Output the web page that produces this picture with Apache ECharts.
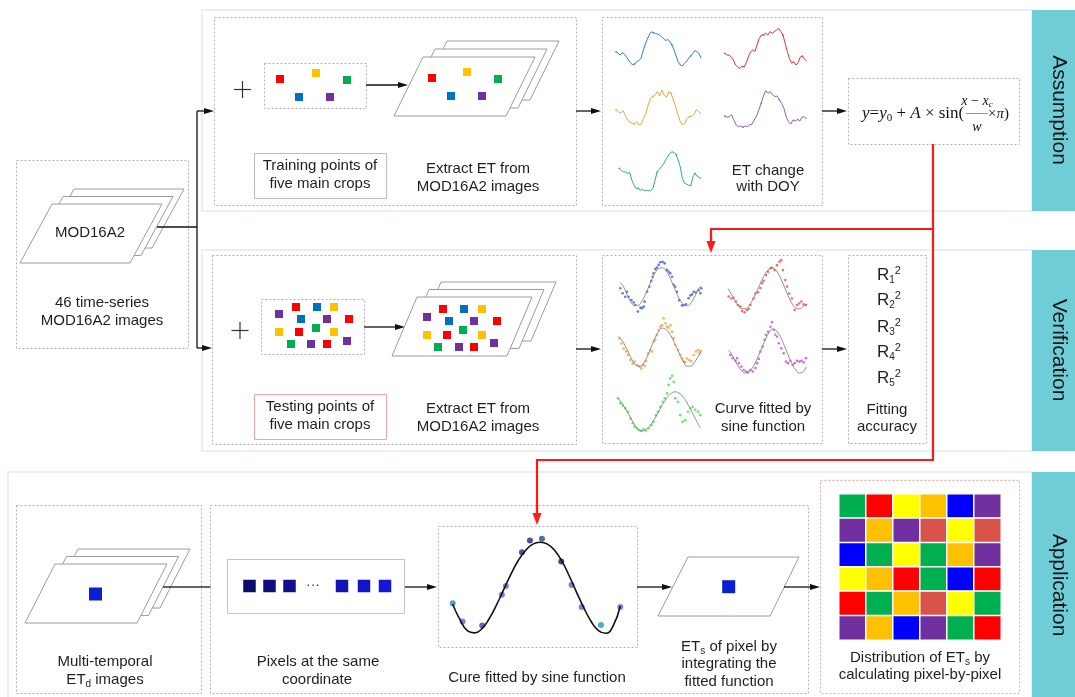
<!DOCTYPE html>
<html>
<head>
<meta charset="utf-8">
<title>ET estimation workflow</title>
<script src="https://cdn.jsdelivr.net/npm/echarts/dist/echarts.min.js"></script>
<style>
  html, body { margin: 0; padding: 0; background: #fff; }
  #chart { width: 1075px; height: 697px; }
</style>
</head>
<body>
<div id="chart"></div>
<script>
// ---------- data ----------
// ET change with DOY (MOD16A2 composites) for the five main crops
const etBlue   = [4.5,4.0,3.5,4.2,3.8,3.0,2.0,1.2,0.5,0.8,1.5,1.8,2.5,4.5,6.5,8.2,9.5,10.5,10.2,10.0,9.8,9.5,9.0,8.5,7.8,8.2,7.5,6.5,5.0,3.2,1.5,0.5,0.2,1.0,1.5,2.5,3.2,4.0,4.8,4.5,4.0,2.5];
const etRed    = [4.2,3.75,3.75,3.3,2.5,1.25,0.8,0.4,1.0,0.8,1.8,3.3,4.6,5.0,4.6,6.25,7.9,8.75,8.75,9.2,8.75,9.6,9.2,9.6,10.0,10.4,9.6,8.75,6.7,4.6,2.9,1.7,2.1,1.25,1.8,3.2,3.5,2.7,2.2];
const etOrange = [4.8,4.3,3.8,4.6,3.3,1.9,1.4,1.0,0.76,1.4,0.5,0.76,2.4,3.8,6.2,8.1,8.6,9.0,10.0,8.8,10.5,9.0,8.4,10.0,9.5,7.6,5.7,3.3,1.4,0.5,1.0,2.4,2.9,3.0,3.5,4.8,4.3,3.6];
const etPurple = [3.2,2.9,3.0,3.5,2.2,0.9,0.4,0.6,0.26,0.6,0.4,0.9,1.1,2.2,3.2,4.8,6.5,8.4,9.8,9.1,9.6,8.7,8.3,8.4,7.4,6.5,5.2,3.0,1.7,1.1,2.2,1.9,2.3,1.9,3.0,2.9,2.5];
const etGreen  = [6.1,5.5,5.2,5.2,4.8,5.0,3.0,1.7,0.9,0.9,0.4,0.7,0.26,0.4,0.26,0.4,0.9,3.0,5.2,5.8,6.5,7.2,8.3,9.1,10.0,10.4,10.3,9.7,8.3,6.5,3.5,2.2,2.0,1.7,1.5,3.9,4.8,4.1,3.7,3.5];

// fitted sine curves, sampled every 2 composites (t = 0, 2, ..., 46)
const fitStep = 2;
const fitBlue   = [6.3,5.05,2.93,1.25,0.32,0.32,1.25,2.93,5.03,7.18,8.95,10.0,10.14,9.35,7.76,5.7,3.53,1.68,0.51,0.22,0.88,2.36,4.38,5.4];
const fitRed    = [5.6,4.1,2.4,1.1,0.35,0.3,0.9,2.2,3.9,5.9,7.8,9.5,10.6,11.0,10.5,9.2,7.3,5.2,3.2,1.5,0.5,0.3,0.8,1.6];
const fitOrange = [8.1,7.0,5.3,3.4,1.6,0.5,0.35,1.3,3.0,5.2,7.5,9.3,10.3,10.1,9.1,7.5,5.5,3.5,1.6,0.4,0.4,1.3,2.7,4.2];
const fitPurple = [6.3,5.0,3.4,1.9,0.8,0.3,0.6,1.6,3.2,5.1,7.2,9.2,10.9,11.8,11.5,10.4,8.6,6.5,4.4,2.5,1.1,0.3,0.5,1.9];
const fitGreen  = [8.7,7.6,6.1,4.5,2.8,1.3,0.3,0.2,0.7,1.6,3.0,4.6,6.3,7.9,9.2,10.1,10.4,10.1,9.3,8.0,6.3,4.5,2.7,1.0];

// testing-point observations [t, ET]
const obsBlue = [[0,4.8],[1.3,3.5],[2.8,2.6],[3.8,3.9],[4.7,2.6],[6.3,1.7],[7.6,1.1],[8.5,0.4],[10,-1.3],[11.4,-0.3],[12.3,-0.4],[13.3,0],[13.8,1.3],[15.2,3.9],[16.5,5.2],[17.6,6.7],[18.4,7.8],[18.9,8.7],[19.9,9.8],[20.8,10.2],[21.8,10.9],[22.7,11.6],[24,11.7],[25.2,11.3],[26.5,9.6],[27.5,9.1],[28.4,8.7],[29.4,7.8],[30.3,5.7],[31.2,5.2],[32.2,3.9],[33.5,1.7],[35,0.3],[36,0.4],[37.3,0.6],[38.8,2.2],[39.8,2.9],[40.7,3.2],[41.7,3.9],[43,3.7],[44.5,4.3],[45.5,3.5],[46,4.8]];
const obsRed = [[0.4,3.5],[2,3.0],[3.3,3.2],[4.7,2.2],[5.9,1.3],[7.3,0.9],[8.3,-0.3],[9.8,-0.6],[11.2,0],[12.2,0.3],[13.2,1.3],[15.1,3.0],[16.1,4.3],[17.7,4.6],[19.1,5.7],[20,7.0],[21,7.6],[22.4,9.1],[23.6,10],[25,10.9],[25.9,11],[27.5,10.4],[28.9,11.7],[30.3,12.6],[31.4,13],[32.4,10.4],[33.8,7.8],[34.8,6.1],[36.1,4.3],[37.7,3.0],[39.3,0],[40.7,1.3],[42,1.7],[43.2,2.2],[44.6,1.5],[46,1.3]];
const obsOrange = [[0.4,7.7],[1.5,6.3],[2.8,5.0],[4.1,4.2],[5.2,3.3],[6.5,2.0],[7.8,1.1],[8.9,1.6],[10.2,0.7],[11.5,0.3],[12.6,-0.2],[13.4,0.7],[14.5,0.5],[15.2,1.7],[16.3,3.7],[17.6,4.6],[18.6,4.2],[19.5,6.8],[20.4,7.2],[21.3,8.5],[22.3,9.8],[23.2,10.7],[24.1,11.1],[25,12.9],[26,11.6],[26.9,10.7],[27.8,10.4],[28.8,11.1],[29.7,9.4],[30.6,7.7],[31.5,5.9],[33,4.6],[34.3,3.3],[35.3,2.4],[36.2,1.6],[37.1,1.4],[38,2.4],[39.3,2.0],[40.4,1.7],[41.7,3.3],[43,4.2],[44.2,4.6],[44.9,3.7],[45.6,4.3]];
const obsPurple = [[1,5.0],[2.4,4.2],[4,3.5],[5,4.2],[6,2.9],[7.5,2.0],[8.9,1.1],[10.3,0.7],[11.5,0.5],[12.9,1.1],[14.3,0.7],[15.9,1.6],[16.9,2.9],[17.9,4.0],[18.8,5.9],[20.2,7.2],[21.4,9.0],[22.2,10.3],[23.4,11.1],[24.8,12.4],[25.8,13.6],[26.8,11.6],[27.8,10.3],[28.8,9.8],[29.8,8.1],[31.3,6.8],[32.7,5.5],[34.1,3.3],[35.3,2.9],[36.7,3.5],[38.1,2.4],[39.3,2.9],[40.7,3.5],[42.1,3.3],[43.3,3.5],[44.6,3.1],[46,4.2]];
const obsGreen = [[0,8.7],[1.3,7.4],[2.6,6.8],[4.1,6.1],[5.6,5.2],[6.9,3.5],[8.2,2.2],[9.3,1.3],[10.6,0.9],[11.9,0.4],[13,0.2],[14.3,0.7],[15.6,0.3],[17.1,0.9],[18.6,1.7],[19.9,2.6],[21.2,4.3],[22.3,5.2],[23.6,6.5],[25,7.8],[26.1,8.7],[27.4,10],[28.3,12.2],[29.2,13.9],[30.2,14.6],[31.1,13],[32,8.7],[33.5,7.8],[34.8,4.3],[36.1,2.6],[37.6,3.0],[39.1,5.2],[40.4,6.1],[41.7,6.5],[43.2,5.7],[44.7,5.2],[46,4.3]];

// one pixel through the year: fitted curve and its 13 observations
const fitPixel = [3.2,1.5,0.3,0.05,0.5,1.6,3.1,4.8,6.5,8.0,9.1,9.8,10.0,9.8,9.1,7.9,6.3,4.5,2.8,1.3,0.3,0.0,0.8,3.0];
const obsPixel = [[0,3.3],[2.7,1.3],[8.1,0.85],[13.5,4.25],[14.6,5.2],[19,8.9],[21.2,10.2],[24.5,10.4],[29.8,7.9],[32.6,5.3],[35.4,2.9],[40.7,0.9],[46,2.9]];

// crop codes of the sample points: 0 red, 1 yellow, 2 green, 3 blue, 4 purple
const trainCrops = [0,1,2,3,4];
const testCrops  = [4,0,3,1,3,4,0,1,0,2,1,2,4,0,4];

// ETs distribution, class code per pixel (6 x 6)
const distRows = [
  [0,1,2,3,4,5],
  [5,3,5,6,2,6],
  [4,0,2,0,3,5],
  [2,3,1,0,4,1],
  [1,0,3,6,2,0],
  [5,3,4,5,0,1]
];

// ---------- styles & layout ----------
const FONT = 'Liberation Sans, Arial, sans-serif';
const SERIF = 'Liberation Serif, Times New Roman, serif';
const INK = '#1f1f1f';
const TEAL = '#6fcdd8';
const RED = '#ff1a1a';
const CROP_COLORS = ['#ff0000', '#ffc000', '#00b050', '#0070c0', '#7030a0'];
const DIST_COLORS = ['#00b050', '#ff0000', '#ffff00', '#ffc000', '#0000ff', '#7030a0', '#d9534a'];
const PIXEL_DOT_COLORS = ['#1e8fba','#7a55d8','#4a3aa6','#7a55d8','#7a55d8','#2a2682','#27217a','#1f4f7c','#1e1a60','#7a55d8','#7a55d8','#1e9ac0','#7a55d8'];
const PIXEL_ROW_COLORS = ['#0c0c6c','#0e0e7e','#10108e','#1313b4','#1414c6','#1616d8'];

const TRAIN_BOX_POS = [[280,79],[316,73],[347,80],[299,97],[330,97]];
const TRAIN_IMG_POS = [[432,78],[467,72],[498,79],[451,96],[482,96]];
const TEST_BOX_POS = [[279,314],[296,307],[317,307],[334,307],[301,319],[327,319],[349,319],[279,332],[299,332],[316,328],[334,332],[291,344],[311,344],[327,344],[347,341]];
const TEST_IMG_POS = [[427,317],[443,309],[464,309],[482,309],[449,321],[474,321],[497,321],[427,335],[447,335],[463,330],[482,335],[438,347],[459,347],[474,347],[494,343]];

// ---------- graphic helpers ----------
const G = [];
function rect(x, y, w, h, style) {
  G.push({ type: 'rect', silent: true, shape: { x, y, width: w, height: h }, style });
}
function dotted(x, y, w, h, color) {
  rect(x + 0.5, y + 0.5, w, h, { fill: '#fff', stroke: color || '#b0b0b0', lineWidth: 1, lineDash: [2, 2] });
}
function poly(points, stroke, lw) {
  G.push({ type: 'polyline', silent: true, shape: { points }, style: { stroke, lineWidth: lw, fill: 'none' } });
}
function arrow(x1, y1, x2, y2, color, lw, hl, hw) {
  const dx = x2 - x1, dy = y2 - y1, L = Math.hypot(dx, dy), ux = dx / L, uy = dy / L;
  const bx = x2 - ux * hl, by = y2 - uy * hl;
  G.push({ type: 'line', silent: true, shape: { x1, y1, x2: bx + ux, y2: by + uy }, style: { stroke: color, lineWidth: lw } });
  G.push({ type: 'polygon', silent: true, shape: { points: [[x2, y2], [bx - uy * hw / 2, by + ux * hw / 2], [bx + uy * hw / 2, by - ux * hw / 2]] }, style: { fill: color } });
}
function blackArrow(x1, y1, x2, y2) { arrow(x1, y1, x2, y2, '#111', 1.3, 10, 6); }
function paraStack(blx, bly, w, h, skew, dx, dy, n) {
  for (let k = n - 1; k >= 0; k--) {
    const x = blx + dx * k, y = bly + dy * k;
    G.push({ type: 'polygon', silent: true,
      shape: { points: [[x + skew, y - h], [x + skew + w, y - h], [x + w, y], [x, y]] },
      style: { fill: '#fff', stroke: '#9c9c9c', lineWidth: 1 } });
  }
}
function square(cx, cy, s, color) {
  rect(cx - s / 2, cy - s / 2, s, s, { fill: color });
}
function plus(cx, cy, r) {
  poly([[cx - r, cy], [cx + r, cy]], '#333', 1.2);
  poly([[cx, cy - r], [cx, cy + r]], '#333', 1.2);
}
const RICH = {
  n: { fontSize: 15, fontFamily: FONT, fill: INK, lineHeight: 18 },
  b: { fontSize: 10, fontFamily: FONT, fill: INK, lineHeight: 10, verticalAlign: 'bottom' }
};
function text(str, x, y, opt) {
  opt = opt || {};
  G.push({ type: 'text', silent: true, x, y, rotation: opt.rotation || 0,
    style: { text: str, fontSize: opt.size || 15, fontFamily: opt.family || FONT, fontStyle: opt.style || 'normal',
      fill: opt.fill || INK, align: opt.align || 'center', verticalAlign: 'middle', rich: opt.rich } });
}

// ---------- panels ----------
const PANEL = { fill: '#fff', stroke: '#e3ebee', lineWidth: 1.5 };
rect(202, 10, 830, 201, PANEL);
rect(202, 250, 830, 201, PANEL);
rect(8, 472, 1024, 230, PANEL);
rect(1032, 10, 45, 201, { fill: TEAL });
rect(1032, 250, 45, 201, { fill: TEAL });
rect(1032, 472, 45, 230, { fill: TEAL });
text('Assumption', 1059, 110, { size: 21, rotation: -Math.PI / 2, fill: '#151515' });
text('Verification', 1059, 350, { size: 21, rotation: -Math.PI / 2, fill: '#151515' });
text('Application', 1059, 585, { size: 21, rotation: -Math.PI / 2, fill: '#151515' });

// ---------- input images ----------
dotted(16, 160, 172, 188);
paraStack(20, 263, 110, 59, 32, 11, -7.5, 3);
text('MOD16A2', 90, 233);
text('46 time-series', 102, 303);
text('MOD16A2 images', 102, 321);
poly([[157, 227], [197, 227]], '#111', 1.3);
poly([[197, 111], [197, 348]], '#111', 1.3);
blackArrow(197, 111, 214, 111);
blackArrow(197, 348, 212, 348);

// ---------- assumption ----------
dotted(214, 17, 362, 188);
plus(242.5, 89.5, 8.5);
dotted(264, 63, 102, 45);
trainCrops.forEach((c, i) => square(TRAIN_BOX_POS[i][0], TRAIN_BOX_POS[i][1], 8, CROP_COLORS[c]));
rect(254.5, 153.5, 132, 45, { fill: '#fff', stroke: '#b6baf0', lineWidth: 1 });
text('Training points of', 320, 166);
text('five main crops', 320, 184);
blackArrow(366, 85, 408, 85);
paraStack(394, 116, 112, 59, 29, 12, -8, 3);
trainCrops.forEach((c, i) => square(TRAIN_IMG_POS[i][0], TRAIN_IMG_POS[i][1], 8, CROP_COLORS[c]));
text('Extract ET from', 478, 169);
text('MOD16A2 images', 478, 187);
blackArrow(576, 111, 601, 111);
dotted(602, 17, 220, 188);
text('ET change', 768, 171);
text('with DOY', 768, 187);
blackArrow(822, 111, 847, 111);
dotted(848, 78, 171, 66);
const MATH = {
  i: { fontFamily: SERIF, fontStyle: 'italic', fontSize: 17, fill: '#111', lineHeight: 20 },
  r: { fontFamily: SERIF, fontSize: 17, fill: '#111', lineHeight: 20 },
  b: { fontFamily: SERIF, fontSize: 11, fill: '#111', lineHeight: 11, verticalAlign: 'bottom' },
  si: { fontFamily: SERIF, fontStyle: 'italic', fontSize: 14, fill: '#111', lineHeight: 16 },
  sr: { fontFamily: SERIF, fontSize: 14, fill: '#111', lineHeight: 16 },
  sb: { fontFamily: SERIF, fontStyle: 'italic', fontSize: 9, fill: '#111', lineHeight: 9, verticalAlign: 'bottom' },
  fi: { fontFamily: SERIF, fontStyle: 'italic', fontSize: 15, fill: '#111', lineHeight: 18 },
  fr: { fontFamily: SERIF, fontSize: 15, fill: '#111', lineHeight: 18 }
};
text('{i|y}{r|=}{i|y}{b|0}{r| + }{i|A}{r| × sin(}', 862, 114, { align: 'left', rich: MATH });
text('{si|x}{sr| − }{si|x}{sb|c}', 977, 101, { rich: MATH });
poly([[966, 113.5], [988, 113.5]], '#666', 0.7);
text('{si|w}', 977, 127, { rich: MATH });
text('{fr|×}{fi|π}{fr|)}', 988, 114, { align: 'left', rich: MATH });

// ---------- verification ----------
dotted(212, 255, 364, 189);
plus(240, 330.5, 8.5);
dotted(261, 299, 103, 55);
testCrops.forEach((c, i) => square(TEST_BOX_POS[i][0], TEST_BOX_POS[i][1], 8, CROP_COLORS[c]));
rect(254.5, 394.5, 132, 45, { fill: '#fff', stroke: '#f2a4a4', lineWidth: 1 });
text('Testing points of', 320, 407);
text('five main crops', 320, 425);
blackArrow(364, 327, 405, 327);
paraStack(392, 356, 115, 59, 25, 12, -7.5, 3);
testCrops.forEach((c, i) => square(TEST_IMG_POS[i][0], TEST_IMG_POS[i][1], 8, CROP_COLORS[c]));
text('Extract ET from', 478, 409);
text('MOD16A2 images', 478, 427);
blackArrow(576, 349, 601, 349);
dotted(602, 255, 220, 188);
text('Curve fitted by', 763, 409);
text('sine function', 763, 427);
blackArrow(822, 349, 847, 349);
dotted(848, 255, 78, 188);
const RR = {
  R: { fontSize: 17, fontFamily: FONT, fill: INK, lineHeight: 20 },
  s: { fontSize: 10, fontFamily: FONT, fill: INK, lineHeight: 10, verticalAlign: 'bottom' },
  p: { fontSize: 11, fontFamily: FONT, fill: INK, lineHeight: 11, verticalAlign: 'top' }
};
[275, 300, 327, 352, 378].forEach((y, k) => text(`{R|R}{s|${k + 1}}{p|2}`, 877, y, { align: 'left', rich: RR }));
text('Fitting', 887, 410);
text('accuracy', 887, 427);

// ---------- application ----------
dotted(16, 505, 185, 188);
paraStack(25, 623, 112, 59, 30, 11.5, -7.5, 3);
square(95.5, 594, 13, '#0a1ed2');
poly([[163, 587], [190, 587]], '#111', 1.3);
blackArrow(190, 587, 227, 587);
text('Multi-temporal', 105, 662);
text('{n|ET}{b|d}{n| images}', 105, 680, { rich: RICH });
dotted(210, 505, 598, 188);
rect(227.5, 559.5, 177, 54, { fill: '#fff', stroke: '#c4c4c4', lineWidth: 1 });
[249.5, 269.5, 289.5].forEach((x, k) => square(x, 586, 12.5, PIXEL_ROW_COLORS[k]));
text('···', 313, 585, { size: 14, fill: '#444' });
[342, 364, 385].forEach((x, k) => square(x, 586, 12.5, PIXEL_ROW_COLORS[k + 3]));
text('Pixels at the same', 318, 662);
text('coordinate', 317, 680);
blackArrow(405, 587, 437, 587);
dotted(438, 526, 199, 121);
text('Cure fitted by sine function', 537, 678);
blackArrow(637, 587, 672, 587);
G.push({ type: 'polygon', silent: true, shape: { points: [[688, 557], [799, 557], [770, 616], [658, 616]] }, style: { fill: '#fff', stroke: '#9c9c9c', lineWidth: 1 } });
square(728.7, 586.7, 13, '#0a1ed2');
text('{n|ET}{b|s}{n| of pixel by}', 729, 647, { rich: RICH });
text('integrating the', 729, 664);
text('fitted function', 729, 682);
blackArrow(784, 587, 820, 587);
dotted(820, 480, 199, 213, '#eaa8a8');
text('{n|Distribution of ET}{b|s}{n| by}', 920, 658, { rich: RICH });
text('calculating pixel-by-pixel', 920, 675);

// ---------- red flow lines ----------
poly([[933, 144], [933, 460], [537, 460], [537, 512]], RED, 2.2);
arrow(537, 505, 537, 525, RED, 2.2, 12, 9);
poly([[933, 229], [711, 229], [711, 240]], RED, 2.2);
arrow(711, 235, 711, 253, RED, 2.2, 12, 9);

// ---------- grids & series ----------
const grids = [], xAxes = [], yAxes = [], series = [];
function addGrid(left, top, width, height, xa, ya) {
  const i = grids.length;
  grids.push({ left, top, width, height });
  xAxes.push(Object.assign({ gridIndex: i, show: false }, xa));
  yAxes.push(Object.assign({ gridIndex: i, show: false }, ya));
  return i;
}

// ET change with DOY
[
  { d: etBlue,   c: '#2f7fc1', box: [616, 31.7, 85, 35] },
  { d: etRed,    c: '#dd3333', box: [724.7, 28, 82, 42] },
  { d: etOrange, c: '#e2a73a', box: [616, 89.9, 85, 36.8] },
  { d: etPurple, c: '#8a5fc0', box: [724.7, 88, 82, 40.3] },
  { d: etGreen,  c: '#2aaa80', box: [619.3, 151.5, 82, 40.3] }
].forEach(s => {
  const gi = addGrid(s.box[0], s.box[1], s.box[2], s.box[3],
    { type: 'category', boundaryGap: false, data: Array.from(s.d.keys()) },
    { type: 'value', min: 0, max: 10.5 });
  series.push({ type: 'line', xAxisIndex: gi, yAxisIndex: gi, data: s.d, symbol: 'circle', symbolSize: 1.6,
    itemStyle: { color: s.c }, lineStyle: { color: s.c, width: 1 }, silent: true });
});

// curves fitted by the sine function
const toPairs = arr => arr.map((v, k) => [k * fitStep, v]);
[
  { fit: fitBlue,   obs: obsBlue,   c: '#3a5cc8', box: [620.3, 249.2, 81, 65.1] },
  { fit: fitRed,    obs: obsRed,    c: '#f04848', box: [728, 252.5, 78, 65.1] },
  { fit: fitOrange, obs: obsOrange, c: '#f39a3c', box: [618.7, 310.2, 82.6, 65.1] },
  { fit: fitPurple, obs: obsPurple, c: '#c04ed8', box: [728.7, 316.8, 77.3, 65.1] },
  { fit: fitGreen,  obs: obsGreen,  c: '#3ee03e', box: [618, 374.2, 82.3, 65.1] }
].forEach(s => {
  const gi = addGrid(s.box[0], s.box[1], s.box[2], s.box[3],
    { type: 'value', min: 0, max: 46 }, { type: 'value', min: -2, max: 15 });
  series.push({ type: 'line', xAxisIndex: gi, yAxisIndex: gi, data: toPairs(s.fit), smooth: true, showSymbol: false,
    lineStyle: { color: '#8c8c8c', width: 1 }, silent: true });
  series.push({ type: 'scatter', xAxisIndex: gi, yAxisIndex: gi, data: s.obs, symbolSize: 2.6, clip: false,
    itemStyle: { color: s.c }, silent: true });
});

// a single pixel fitted through the year
const gp = addGrid(452.7, 533.2, 167.6, 109.2, { type: 'value', min: 0, max: 46 }, { type: 'value', min: -1, max: 11 });
series.push({ type: 'line', xAxisIndex: gp, yAxisIndex: gp, data: toPairs(fitPixel), smooth: true, showSymbol: false,
  lineStyle: { color: '#111', width: 1.6 }, silent: true });
series.push({ type: 'scatter', xAxisIndex: gp, yAxisIndex: gp, symbolSize: 6, clip: false, silent: true,
  data: obsPixel.map((p, k) => ({ value: p, itemStyle: { color: PIXEL_DOT_COLORS[k] } })) });

// ETs distribution map
const gh = addGrid(839, 494, 162, 146,
  { type: 'category', data: [0, 1, 2, 3, 4, 5] },
  { type: 'category', data: [0, 1, 2, 3, 4, 5], inverse: true });
const heatData = [];
distRows.forEach((row, r) => row.forEach((code, c) => heatData.push([c, r, code])));
const heatIndex = series.length;
series.push({ type: 'heatmap', xAxisIndex: gh, yAxisIndex: gh, data: heatData, silent: true,
  itemStyle: { borderColor: '#fff', borderWidth: 1.5 }, emphasis: { disabled: true } });

const chart = echarts.init(document.getElementById('chart'), null, { renderer: 'canvas' });
chart.setOption({
  animation: false,
  backgroundColor: '#fff',
  grid: grids,
  xAxis: xAxes,
  yAxis: yAxes,
  visualMap: {
    show: false, type: 'piecewise', dimension: 2, seriesIndex: heatIndex,
    pieces: DIST_COLORS.map((color, value) => ({ value, color }))
  },
  graphic: { elements: G },
  series
});
</script>
</body>
</html>
